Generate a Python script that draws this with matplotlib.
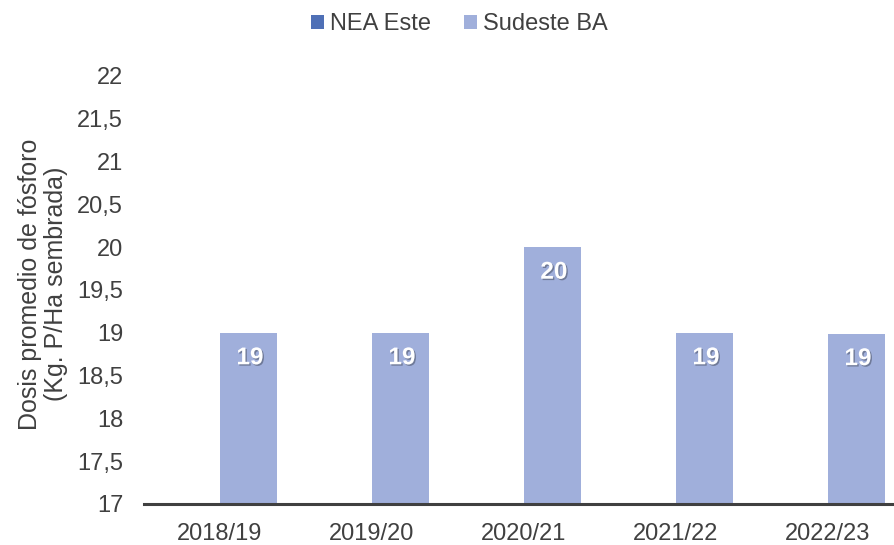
"""
Dosis promedio de fósforo por campaña - NEA Este vs Sudeste BA.
"""

import numpy as np
import matplotlib.pyplot as plt
import matplotlib.patheffects as pe
from matplotlib.ticker import FuncFormatter

# --- Data -----------------------------------------------------------------

CAMPANIAS = ["2018/19", "2019/20", "2020/21", "2021/22", "2022/23"]
NEA_ESTE = [np.nan, np.nan, np.nan, np.nan, np.nan]  # sin dato visible
SUDESTE_BA = [19.0, 19.0, 20.0, 19.0, 18.99]
ETIQUETAS_SUDESTE = ["19", "19", "20", "19", "19"]

COLOR_NEA = "#4F70B6"
COLOR_SUDESTE = "#A0AFDB"
TEXT_COLOR = "#404040"

plt.rcParams["font.family"] = ["Liberation Sans", "DejaVu Sans"]


def main():
    fig = plt.figure(figsize=(8.94, 5.45), dpi=100)
    # plot area runs a little past the right edge, like the source
    ax = fig.add_axes([144 / 894, 41 / 545, 760 / 894, 428 / 545])

    x = np.arange(len(CAMPANIAS))
    w = 0.375
    ax.bar(x - w / 2, NEA_ESTE, width=w, color=COLOR_NEA, label="NEA Este")
    bars = ax.bar(x + w / 2, SUDESTE_BA, width=w, color=COLOR_SUDESTE,
                  label="Sudeste BA")

    shadow = [pe.SimplePatchShadow(offset=(1.0, -1.0), shadow_rgbFace="black",
                                   alpha=0.3), pe.Normal()]
    for rect, txt in zip(bars, ETIQUETAS_SUDESTE):
        ax.annotate(txt, (rect.get_x() + rect.get_width() / 2, rect.get_height()),
                    xytext=(1, -18), textcoords="offset points",
                    ha="center", va="center", fontsize=17.5, fontweight="bold",
                    color="white", path_effects=shadow)

    ax.set_xlim(-0.5, len(CAMPANIAS) - 0.5)
    ax.set_ylim(17, 22)
    ax.set_yticks(np.arange(17, 22.01, 0.5))
    ax.yaxis.set_major_formatter(
        FuncFormatter(lambda v, _: f"{v:g}".replace(".", ",")))
    ax.set_xticks(x)
    ax.set_xticklabels(CAMPANIAS)

    ax.tick_params(axis="both", length=0, labelsize=17, colors=TEXT_COLOR)
    ax.tick_params(axis="y", pad=15)
    ax.tick_params(axis="x", pad=14)

    for side in ["top", "right", "left"]:
        ax.spines[side].set_visible(False)
    ax.spines["bottom"].set_color(TEXT_COLOR)
    ax.spines["bottom"].set_linewidth(2.2)
    ax.spines["bottom"].set_zorder(5)

    ax.set_ylabel("Dosis promedio de fósforo\n(Kg. P/Ha sembrada)",
                  fontsize=18, color=TEXT_COLOR, linespacing=1.1)
    ax.yaxis.set_label_coords((68 - 144) / 760, 0.514)

    fig.legend(loc="center", bbox_to_anchor=(0.514, 0.956), ncol=2,
               frameon=False, fontsize=17, handlelength=0.55, handleheight=0.55,
               handletextpad=0.25, columnspacing=1.4, labelcolor=TEXT_COLOR)

    fig.savefig("out.png", dpi=100)


if __name__ == "__main__":
    main()
